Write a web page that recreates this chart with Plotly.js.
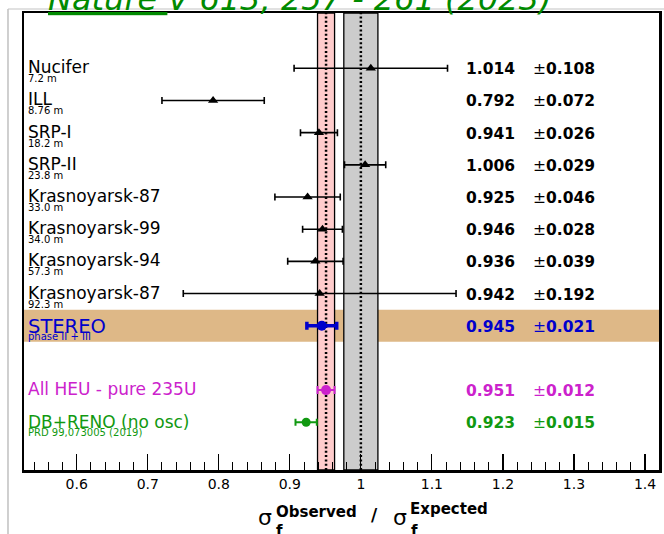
<!DOCTYPE html>
<html><head><meta charset="utf-8">
<script src="https://cdn.plot.ly/plotly-3.0.1.min.js"></script>
<style>html,body{margin:0;padding:0;background:#fff}#chart{width:664px;height:534px}</style>
</head><body><div id="chart"></div>
<script>
// ---- data ----
const expNames = ['Nucifer','ILL','SRP-I','SRP-II','Krasnoyarsk-87','Krasnoyarsk-99','Krasnoyarsk-94','Krasnoyarsk-87'];
const expBaselines = ['7.2 m','8.76 m','18.2 m','23.8 m','33.0 m','34.0 m','57.3 m','92.3 m'];
const expRatios = [1.014,0.792,0.941,1.006,0.925,0.946,0.936,0.942];
const expErrors = [0.108,0.072,0.026,0.029,0.046,0.028,0.039,0.192];
const stereoName = 'STEREO', stereoSub = 'phase II + III';
const stereoRatio = [0.945], stereoError = [0.021];
const heuName = 'All HEU - pure 235U';
const heuRatio = [0.951], heuError = [0.012];
const renoName = 'DB+RENO (no osc)', renoSub = 'PRD 99,073005 (2019)';
const renoRatio = [0.923], renoError = [0.015];
const expectedRatio = 1.0, expectedError = 0.024;
const titleText = 'Nature V 613, 257 - 261 (2023)';

// ---- layout helpers ----
const W = 664, H = 534;
const M = {l:24, r:5, t:13, b:64};
const PW = W - M.l - M.r, PH = H - M.t - M.b;
const X = px => (px - M.l) / PW;
const Y = py => (H - M.b - py) / PH;
const FONT = 'DejaVu Sans';

const expRows = expNames.map((_, i) => i);
const stereoRow = expNames.length;
const heuRow = stereoRow + 2;
const renoRow = stereoRow + 3;

const BLUE = '#0000cc', MAG = '#cc22cc', GREEN = '#119911';

const traces = [
  {type:'scatter', mode:'markers', x:expRatios, y:expRows,
   marker:{symbol:'triangle-up', size:9, color:'black'},
   error_x:{type:'data', array:expErrors, visible:true, color:'black', thickness:1.6, width:3.5}},
  {type:'scatter', mode:'markers', x:stereoRatio, y:[stereoRow],
   marker:{symbol:'circle', size:10, color:BLUE},
   error_x:{type:'data', array:stereoError, visible:true, color:BLUE, thickness:3.5, width:4}},
  {type:'scatter', mode:'markers', x:heuRatio, y:[heuRow],
   marker:{symbol:'circle', size:10, color:MAG},
   error_x:{type:'data', array:heuError, visible:true, color:MAG, thickness:2, width:4}},
  {type:'scatter', mode:'markers', x:renoRatio, y:[renoRow],
   marker:{symbol:'circle', size:9, color:GREEN},
   error_x:{type:'data', array:renoError, visible:true, color:GREEN, thickness:2, width:3.5}}
];

const ann = [];
function A(o){ ann.push(Object.assign({showarrow:false, borderpad:0, borderwidth:0, xref:'paper'}, o)); }
function fmt(v){ return v.toFixed(3); }

// row labels
expNames.forEach((n, i) => {
  A({text:n, x:X(27.5), xanchor:'left', yref:'y', y:expRows[i], yanchor:'middle', yshift:1, font:{family:FONT, size:17, color:'black'}});
  A({text:expBaselines[i], x:X(28), xanchor:'left', yref:'y', y:expRows[i], yanchor:'middle', yshift:-10.5, font:{family:FONT, size:10, color:'black'}});
  A({text:'<b>'+fmt(expRatios[i])+'</b>', x:X(465.5), xanchor:'left', yref:'y', y:expRows[i], yanchor:'middle', yshift:-1, font:{family:FONT, size:15.5, color:'black'}});
  A({text:'±<b>'+fmt(expErrors[i])+'</b>', x:X(533), xanchor:'left', yref:'y', y:expRows[i], yanchor:'middle', yshift:-1, font:{family:FONT, size:15.5, color:'black'}});
});
// STEREO
A({text:stereoName, x:X(27.5), xanchor:'left', yref:'y', y:stereoRow, yanchor:'middle', yshift:-0.6, font:{family:FONT, size:19.5, color:BLUE}});
A({text:stereoSub, x:X(28), xanchor:'left', yref:'y', y:stereoRow, yanchor:'middle', yshift:-11, font:{family:FONT, size:10, color:BLUE}});
A({text:'<b>'+fmt(stereoRatio[0])+'</b>', x:X(465.5), xanchor:'left', yref:'y', y:stereoRow, yanchor:'middle', yshift:-1, font:{family:FONT, size:15.5, color:BLUE}});
A({text:'±<b>'+fmt(stereoError[0])+'</b>', x:X(533), xanchor:'left', yref:'y', y:stereoRow, yanchor:'middle', yshift:-1, font:{family:FONT, size:15.5, color:BLUE}});
// HEU
A({text:heuName, x:X(27.5), xanchor:'left', yref:'y', y:heuRow, yanchor:'middle', yshift:1.5, font:{family:FONT, size:17, color:MAG}});
A({text:'<b>'+fmt(heuRatio[0])+'</b>', x:X(465.5), xanchor:'left', yref:'y', y:heuRow, yanchor:'middle', yshift:-1, font:{family:FONT, size:15.5, color:MAG}});
A({text:'±<b>'+fmt(heuError[0])+'</b>', x:X(533), xanchor:'left', yref:'y', y:heuRow, yanchor:'middle', yshift:-1, font:{family:FONT, size:15.5, color:MAG}});
// DB+RENO
A({text:renoName, x:X(27.5), xanchor:'left', yref:'y', y:renoRow, yanchor:'middle', yshift:0.6, font:{family:FONT, size:17, color:GREEN}});
A({text:renoSub, x:X(28), xanchor:'left', yref:'y', y:renoRow, yanchor:'middle', yshift:-10, font:{family:FONT, size:10, color:GREEN}});
A({text:'<b>'+fmt(renoRatio[0])+'</b>', x:X(465.5), xanchor:'left', yref:'y', y:renoRow, yanchor:'middle', yshift:-1, font:{family:FONT, size:15.5, color:GREEN}});
A({text:'±<b>'+fmt(renoError[0])+'</b>', x:X(533), xanchor:'left', yref:'y', y:renoRow, yanchor:'middle', yshift:-1, font:{family:FONT, size:15.5, color:GREEN}});

// Title (clipped at top)
const tParts = titleText.split(' ');
A({text:'<i><span style="text-decoration:underline">'+tParts[0]+' </span>'+tParts.slice(1).join(' ')+'</i>',
   x:X(48), xanchor:'left', yref:'paper', y:Y(-0.6), yanchor:'middle', font:{family:FONT, size:32, color:'#008a00'}});

// x-axis title pieces
A({text:'σ', x:X(258), xanchor:'left', yref:'paper', y:Y(517.4), yanchor:'middle', font:{family:FONT, size:22, color:'black'}});
A({text:'<b>f</b>', x:X(276), xanchor:'left', yref:'paper', y:Y(531.2), yanchor:'middle', font:{family:FONT, size:15, color:'black'}});
A({text:'<b>Observed</b>', x:X(275.5), xanchor:'left', yref:'paper', y:Y(511.5), yanchor:'middle', font:{family:FONT, size:15, color:'black'}});
A({text:'<b>/</b>', x:X(374.2), xanchor:'center', yref:'paper', y:Y(515), yanchor:'middle', font:{family:FONT, size:17, color:'black'}});
A({text:'σ', x:X(393), xanchor:'left', yref:'paper', y:Y(517.4), yanchor:'middle', font:{family:FONT, size:22, color:'black'}});
A({text:'<b>f</b>', x:X(410.5), xanchor:'left', yref:'paper', y:Y(531.2), yanchor:'middle', font:{family:FONT, size:15, color:'black'}});
A({text:'<b>Expected</b>', x:X(410.3), xanchor:'left', yref:'paper', y:Y(508.8), yanchor:'middle', font:{family:FONT, size:15, color:'black'}});

const shapes = [
  // STEREO row band
  {type:'rect', layer:'below', xref:'paper', x0:0, x1:1, yref:'y', y0:stereoRow-0.5, y1:stereoRow+0.5, fillcolor:'#deb887', line:{width:0}},
  // HEU band
  {type:'rect', layer:'below', xref:'x', x0:heuRatio[0]-heuError[0], x1:heuRatio[0]+heuError[0], yref:'paper', y0:0, y1:1, fillcolor:'#ffcccc', line:{color:'black', width:1.3}},
  // expected band
  {type:'rect', layer:'below', xref:'x', x0:expectedRatio-expectedError, x1:expectedRatio+expectedError, yref:'paper', y0:0, y1:1, fillcolor:'#cccccc', line:{color:'black', width:1.3}},
  // dotted centre lines
  {type:'line', layer:'below', xref:'x', x0:heuRatio[0], x1:heuRatio[0], yref:'paper', y0:0, y1:1, line:{color:'black', width:2.5, dash:'2px,2.3px'}},
  {type:'line', layer:'below', xref:'x', x0:expectedRatio, x1:expectedRatio, yref:'paper', y0:0, y1:1, line:{color:'black', width:2.5, dash:'2px,2.3px'}},
  // light screenshot frame lines
  {type:'line', xref:'paper', yref:'paper', x0:X(8), x1:X(8), y0:Y(9), y1:Y(540), line:{color:'#c4c4c4', width:1.6}},
  {type:'line', xref:'paper', yref:'paper', x0:X(8), x1:X(670), y0:Y(9), y1:Y(9), line:{color:'#c4c4c4', width:1.2}}
];

const layout = {
  width:W, height:H, margin:M, showlegend:false,
  paper_bgcolor:'white', plot_bgcolor:'white',
  font:{family:FONT, color:'black'},
  xaxis:{range:[0.5258, 1.4197], showgrid:false, zeroline:false,
    showline:true, linewidth:2.5, linecolor:'black', mirror:true,
    ticks:'inside', ticklen:16, tickwidth:1.2, tickcolor:'black',
    tick0:0, dtick:0.1, tickfont:{family:FONT, size:14, color:'black'},
    minor:{ticks:'inside', ticklen:8, tickwidth:1, tickcolor:'black', dtick:0.02, tick0:0, showgrid:false}},
  yaxis:{range:[12.483, -1.718], showgrid:false, zeroline:false, showticklabels:false, ticks:'',
    showline:true, linewidth:2.5, linecolor:'black', mirror:true},
  annotations:ann, shapes:shapes
};

Plotly.newPlot('chart', traces, layout, {staticPlot:true, displayModeBar:false});
</script></body></html>
